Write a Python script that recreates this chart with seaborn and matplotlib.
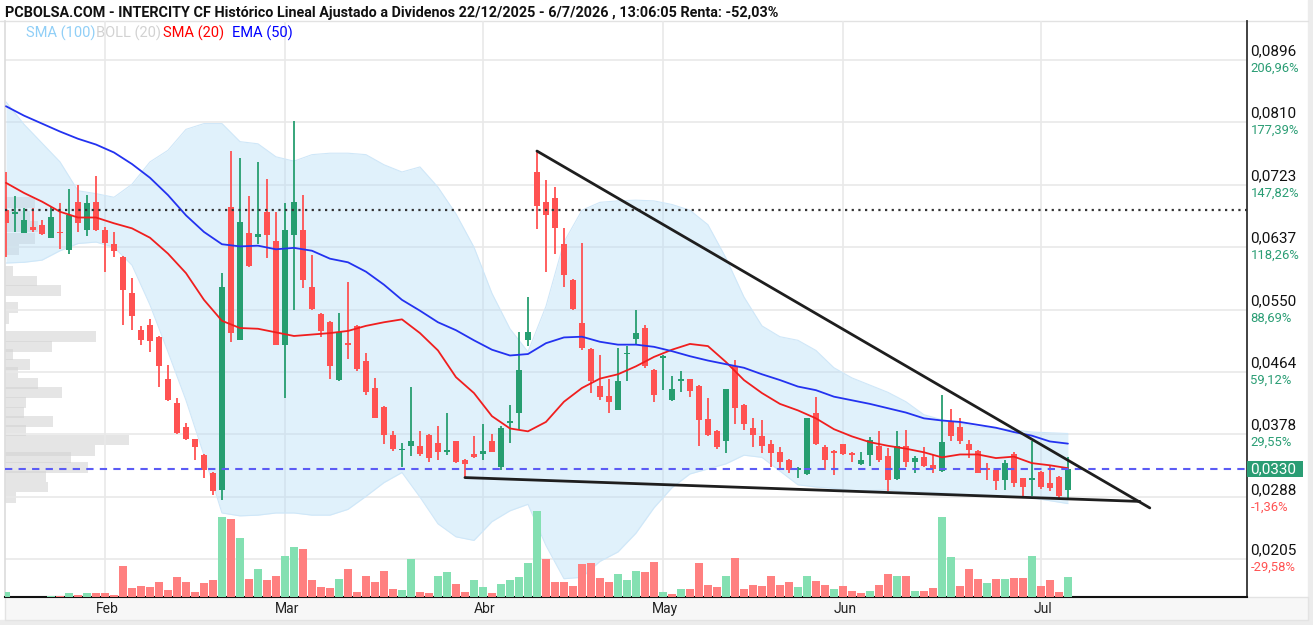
import warnings
warnings.filterwarnings("ignore")
import numpy as np
import pandas as pd
import matplotlib as mpl
mpl.use('Agg')
import matplotlib.pyplot as plt
from matplotlib.patches import Rectangle
from matplotlib import font_manager
import seaborn as sns

#========================================================================================
# daily candles, 16/01/2026 -> 06/07/2026 (trading days only)
opens = [0.0688, 0.0683, 0.0657, 0.0665, 0.0668, 0.0650, 0.0658, 0.0633, 0.0700, 0.0661,
         0.0700, 0.0661, 0.0641, 0.0624, 0.0573, 0.0522, 0.0529, 0.0513, 0.0454, 0.0421,
         0.0388, 0.0371, 0.0349, 0.0324, 0.0301, 0.0692, 0.0509, 0.0657, 0.0651, 0.0686,
         0.0645, 0.0502, 0.0654, 0.0661, 0.0582, 0.0544, 0.0534, 0.0453, 0.0504, 0.0528,
         0.0480, 0.0442, 0.0416, 0.0377, 0.0356, 0.0362, 0.0362, 0.0377, 0.0366, 0.0353,
         0.0368, 0.0343, 0.0350, 0.0351, 0.0368, 0.0333, 0.0393, 0.0408, 0.0508, 0.0741,
         0.0700, 0.0705, 0.0641, 0.0592, 0.0532, 0.0496, 0.0445, 0.0431, 0.0412, 0.0489,
         0.0510, 0.0525, 0.0467, 0.0484, 0.0425, 0.0452, 0.0454, 0.0445, 0.0399, 0.0383,
         0.0368, 0.0472, 0.0419, 0.0386, 0.0375, 0.0364, 0.0353, 0.0343, 0.0329, 0.0323,
         0.0407, 0.0361, 0.0355, 0.0364, 0.0352, 0.0337, 0.0349, 0.0362, 0.0348, 0.0316,
         0.0362, 0.0339, 0.0346, 0.0336, 0.0327, 0.0395, 0.0388, 0.0364, 0.0355, 0.0330,
         0.0329, 0.0314, 0.0351, 0.0317, 0.0314, 0.0326, 0.0310, 0.0319, 0.0301]
highs = [0.0741, 0.0708, 0.0691, 0.0691, 0.0675, 0.0693, 0.0698, 0.0718, 0.0723, 0.0709,
         0.0735, 0.0665, 0.0658, 0.0625, 0.0594, 0.0528, 0.0537, 0.0514, 0.0474, 0.0428,
         0.0393, 0.0372, 0.0350, 0.0326, 0.0601, 0.0770, 0.0760, 0.0708, 0.0755, 0.0731,
         0.0686, 0.0698, 0.0811, 0.0709, 0.0626, 0.0546, 0.0535, 0.0546, 0.0589, 0.0529,
         0.0491, 0.0456, 0.0417, 0.0382, 0.0366, 0.0443, 0.0382, 0.0378, 0.0389, 0.0407,
         0.0369, 0.0344, 0.0376, 0.0392, 0.0379, 0.0389, 0.0419, 0.0519, 0.0568, 0.0770,
         0.0730, 0.0720, 0.0664, 0.0593, 0.0643, 0.0497, 0.0488, 0.0454, 0.0497, 0.0500,
         0.0550, 0.0529, 0.0468, 0.0488, 0.0458, 0.0466, 0.0455, 0.0446, 0.0428, 0.0384,
         0.0441, 0.0481, 0.0420, 0.0401, 0.0398, 0.0370, 0.0360, 0.0344, 0.0333, 0.0401,
         0.0429, 0.0363, 0.0356, 0.0365, 0.0353, 0.0354, 0.0374, 0.0382, 0.0359, 0.0382,
         0.0384, 0.0348, 0.0361, 0.0349, 0.0432, 0.0413, 0.0401, 0.0370, 0.0356, 0.0338,
         0.0330, 0.0342, 0.0354, 0.0318, 0.0368, 0.0327, 0.0336, 0.0320, 0.0346]
lows = [0.0624, 0.0658, 0.0656, 0.0658, 0.0654, 0.0649, 0.0634, 0.0627, 0.0658, 0.0653,
        0.0660, 0.0603, 0.0624, 0.0529, 0.0522, 0.0502, 0.0492, 0.0444, 0.0424, 0.0379,
        0.0370, 0.0342, 0.0317, 0.0294, 0.0287, 0.0506, 0.0508, 0.0610, 0.0642, 0.0622,
        0.0501, 0.0428, 0.0550, 0.0580, 0.0550, 0.0513, 0.0455, 0.0451, 0.0482, 0.0466,
        0.0432, 0.0400, 0.0365, 0.0355, 0.0332, 0.0348, 0.0348, 0.0340, 0.0343, 0.0349,
        0.0338, 0.0317, 0.0345, 0.0342, 0.0353, 0.0329, 0.0366, 0.0384, 0.0500, 0.0662,
        0.0603, 0.0628, 0.0582, 0.0550, 0.0495, 0.0435, 0.0426, 0.0407, 0.0411, 0.0451,
        0.0502, 0.0469, 0.0423, 0.0439, 0.0424, 0.0437, 0.0430, 0.0362, 0.0375, 0.0357,
        0.0352, 0.0392, 0.0384, 0.0361, 0.0352, 0.0333, 0.0329, 0.0324, 0.0317, 0.0322,
        0.0363, 0.0329, 0.0322, 0.0349, 0.0339, 0.0336, 0.0334, 0.0340, 0.0300, 0.0315,
        0.0333, 0.0324, 0.0332, 0.0324, 0.0326, 0.0368, 0.0365, 0.0345, 0.0324, 0.0315,
        0.0301, 0.0301, 0.0305, 0.0291, 0.0293, 0.0302, 0.0299, 0.0289, 0.0288]
closes = [0.0671, 0.0685, 0.0675, 0.0661, 0.0655, 0.0679, 0.0656, 0.0681, 0.0671, 0.0698,
          0.0661, 0.0643, 0.0632, 0.0578, 0.0541, 0.0509, 0.0507, 0.0472, 0.0425, 0.0380,
          0.0371, 0.0361, 0.0329, 0.0299, 0.0582, 0.0518, 0.0672, 0.0611, 0.0655, 0.0654,
          0.0502, 0.0661, 0.0700, 0.0591, 0.0552, 0.0521, 0.0472, 0.0520, 0.0501, 0.0468,
          0.0437, 0.0401, 0.0377, 0.0357, 0.0358, 0.0368, 0.0351, 0.0345, 0.0354, 0.0356,
          0.0339, 0.0337, 0.0346, 0.0355, 0.0354, 0.0386, 0.0397, 0.0467, 0.0520, 0.0694,
          0.0681, 0.0663, 0.0598, 0.0551, 0.0497, 0.0451, 0.0430, 0.0422, 0.0451, 0.0490,
          0.0518, 0.0472, 0.0432, 0.0486, 0.0440, 0.0453, 0.0438, 0.0398, 0.0377, 0.0361,
          0.0440, 0.0415, 0.0392, 0.0377, 0.0362, 0.0352, 0.0340, 0.0329, 0.0331, 0.0400,
          0.0365, 0.0343, 0.0352, 0.0350, 0.0349, 0.0342, 0.0370, 0.0342, 0.0315, 0.0362,
          0.0339, 0.0345, 0.0334, 0.0330, 0.0367, 0.0375, 0.0368, 0.0356, 0.0325, 0.0329,
          0.0313, 0.0338, 0.0310, 0.0305, 0.0317, 0.0305, 0.0303, 0.0292, 0.0330]
prev_close = 0.0665   # close of the session before the first visible candle
volume = [5.3, 0.3, 0.3, 0.3, 0.3, 1.3, 1.3, 4.0, 1.7, 4.0,
          4.0, 4.0, 1.7, 31.0, 9.0, 11.0, 10.0, 15.0, 6.7, 20.0,
          15.0, 5.3, 14.0, 16.7, 80.0, 77.7, 59.0, 17.7, 27.7, 16.7,
          21.3, 41.3, 50.0, 47.7, 16.7, 10.3, 9.0, 17.7, 27.7, 5.3,
          21.3, 15.3, 26.3, 7.7, 6.7, 37.7, 5.3, 4.0, 21.3, 25.3,
          12.7, 5.3, 16.7, 10.3, 4.0, 12.7, 16.7, 20.3, 34.0, 86.3,
          37.7, 15.3, 15.3, 11.3, 32.7, 34.0, 19.0, 15.3, 22.7, 16.7,
          26.3, 25.3, 35.3, 5.0, 3.3, 7.7, 7.7, 34.3, 12.3, 10.0,
          21.3, 39.0, 7.7, 12.3, 11.3, 21.3, 12.3, 15.3, 10.0, 21.0,
          16.0, 12.0, 8.3, 11.3, 6.3, 3.7, 6.3, 12.3, 22.7, 21.3,
          21.3, 6.3, 6.3, 9.0, 80.3, 40.0, 11.3, 27.7, 17.7, 14.0,
          17.7, 17.7, 19.0, 19.0, 41.3, 11.3, 16.7, 5.3, 20.0]

# indicators, read every second session
ema50 = [0.0832, 0.0819, 0.0808, 0.0797, 0.0787, 0.0779, 0.0768, 0.0752, 0.0733, 0.0709,
         0.0681, 0.0658, 0.0641, 0.0638, 0.0639, 0.0634, 0.0636, 0.0632, 0.0621, 0.0616,
         0.0603, 0.0585, 0.0564, 0.0549, 0.0533, 0.0522, 0.0508, 0.0495, 0.0487, 0.0489,
         0.0504, 0.0512, 0.0513, 0.0506, 0.0502, 0.0502, 0.0499, 0.0493, 0.0486, 0.0480,
         0.0475, 0.0470, 0.0461, 0.0453, 0.0444, 0.0439, 0.0430, 0.0425, 0.0420, 0.0414,
         0.0408, 0.0400, 0.0397, 0.0395, 0.0391, 0.0387, 0.0381, 0.0376, 0.0368, 0.0365]
sma20 = [0.0726, 0.0712, 0.0700, 0.0686, 0.0678, 0.0678, 0.0670, 0.0663, 0.0650, 0.0628,
         0.0601, 0.0564, 0.0535, 0.0525, 0.0524, 0.0519, 0.0514, 0.0516, 0.0518, 0.0521,
         0.0528, 0.0533, 0.0537, 0.0518, 0.0494, 0.0457, 0.0435, 0.0403, 0.0386, 0.0382,
         0.0395, 0.0423, 0.0442, 0.0455, 0.0461, 0.0472, 0.0485, 0.0495, 0.0503, 0.0500,
         0.0478, 0.0453, 0.0435, 0.0420, 0.0411, 0.0400, 0.0385, 0.0375, 0.0367, 0.0362,
         0.0358, 0.0353, 0.0346, 0.0350, 0.0350, 0.0345, 0.0347, 0.0338, 0.0335, 0.0331]
boll_up = [0.0838, 0.0807, 0.0781, 0.0755, 0.0715, 0.0711, 0.0706, 0.0724, 0.0755, 0.0771,
           0.0800, 0.0808, 0.0808, 0.0783, 0.0780, 0.0762, 0.0756, 0.0765, 0.0767, 0.0767,
           0.0765, 0.0751, 0.0741, 0.0748, 0.0720, 0.0683, 0.0637, 0.0573, 0.0524, 0.0492,
           0.0555, 0.0644, 0.0688, 0.0699, 0.0701, 0.0702, 0.0701, 0.0696, 0.0688, 0.0668,
           0.0622, 0.0568, 0.0528, 0.0513, 0.0508, 0.0494, 0.0470, 0.0456, 0.0446, 0.0436,
           0.0423, 0.0405, 0.0398, 0.0393, 0.0388, 0.0386, 0.0384, 0.0381, 0.0380, 0.0379]
boll_lo = [0.0615, 0.0616, 0.0619, 0.0632, 0.0642, 0.0644, 0.0637, 0.0612, 0.0557, 0.0492,
           0.0425, 0.0349, 0.0269, 0.0265, 0.0266, 0.0269, 0.0269, 0.0266, 0.0266, 0.0274,
           0.0292, 0.0311, 0.0325, 0.0291, 0.0254, 0.0236, 0.0231, 0.0257, 0.0272, 0.0281,
           0.0224, 0.0178, 0.0180, 0.0202, 0.0215, 0.0241, 0.0276, 0.0304, 0.0323, 0.0330,
           0.0337, 0.0349, 0.0346, 0.0327, 0.0308, 0.0305, 0.0303, 0.0300, 0.0300, 0.0301,
           0.0298, 0.0298, 0.0297, 0.0295, 0.0294, 0.0292, 0.0291, 0.0290, 0.0286, 0.0282]

# volume profile (left side)
vp_price = [0.0699, 0.0680, 0.0665, 0.0649, 0.0634, 0.0604, 0.0590, 0.0577, 0.0553, 0.0538,
            0.0513, 0.0499, 0.0488, 0.0474, 0.0463, 0.0448, 0.0436, 0.0422, 0.0408, 0.0396,
            0.0383, 0.0370, 0.0356, 0.0346, 0.0332, 0.0319, 0.0305, 0.0290]
vp_vol = [30, 25, 33, 30, 14, 8, 32, 56, 13, 4,
          91, 47, 8, 25, 13, 33, 57, 21, 19, 48,
          21, 124, 90, 66, 83, 41, 43, 11]

# drawn trend lines (session index, price)
trend_hi_idx = [59.0, 127.1]
trend_hi_px = [0.0770, 0.0276]
trend_lo_idx = [51.0, 126.0]
trend_lo_px = [0.0318, 0.0285]

ref_price = 0.0688   # start-of-period price (dotted)
last_price = 0.0330

month_idx = [11, 31, 53, 73, 93, 115]
month_lbl = ['Feb', 'Mar', 'Abr', 'May', 'Jun', 'Jul']

grid_levels = [0.0896, 0.0810, 0.0723, 0.0637, 0.0550, 0.0464, 0.0378, 0.0291, 0.0205]
axis_vals = [0.0896, 0.0810, 0.0723, 0.0637, 0.0550, 0.0464, 0.0378, 0.0288, 0.0205]
axis_txt = ['0,0896', '0,0810', '0,0723', '0,0637', '0,0550', '0,0464', '0,0378', '0,0288', '0,0205']
pct_txt = ['206,96%', '177,39%', '147,82%', '118,26%', '88,69%', '59,12%', '29,55%', '-1,36%', '-29,58%']

title = ('PCBOLSA.COM - INTERCITY CF Histórico Lineal Ajustado a Dividenos '
         '22/12/2025 - 6/7/2026 , 13:06:05 Renta: -52,03%')

#========================================================================================
sns.set_theme(style='white')
plt.rcParams['font.family'] = ['Roboto', 'DejaVu Sans']

names = {f.name for f in font_manager.fontManager.ttflist}
title_font = 'Liberation Sans Narrow' if 'Liberation Sans Narrow' in names else 'Roboto'
title_size = 12.4 if title_font == 'Liberation Sans Narrow' else 10.4

GREEN = '#269e70'
RED = '#ff5252'
VGREEN = '#84e0b2'
VRED = '#ff8080'

W, H = 1313, 625
fig = plt.figure(figsize=(W / 100, H / 100), dpi=100)
fig.patch.set_facecolor('white')

# frame / decorations in pixel units
bg = fig.add_axes([0, 0, 1, 1], zorder=-10)
bg.set_xlim(0, W)
bg.set_ylim(H, 0)
bg.axis('off')
bg.add_patch(Rectangle((1308, 0), 5, H, color='#ececec'))
bg.add_patch(Rectangle((0, 620), W, 5, color='#ececec'))
bg.add_patch(Rectangle((5, 597), 1303, 23, facecolor='#f7f7f7', edgecolor='#e3e3e3', lw=1))
bg.plot([0, 1308], [21, 21], color='#e2e2e2', lw=1)

rect = [5 / W, 1 - 597 / H, 1242 / W, 576 / H]
ylim = (0.01527, 0.0950)
xlim = (-0.11, 137.9)

# volume profile underneath everything
vp = fig.add_axes(rect, zorder=1)
vp.set_xlim(0, 1242)
vp.set_ylim(*ylim)
vp.axis('off')
vp.barh(vp_price, vp_vol, height=0.0015, left=0, color='#d4d4d4', alpha=0.6, lw=0)

ax = fig.add_axes(rect, zorder=2)
ax.set_facecolor('none')
ax.set_xlim(*xlim)
ax.set_ylim(*ylim)
ax.set_xticks([])
ax.set_yticks([])
ax.spines['top'].set_visible(False)
ax.spines['left'].set_color('#dddddd')
ax.spines['right'].set_color('#333333')
ax.spines['right'].set_linewidth(1.3)
ax.spines['bottom'].set_color('#111111')
ax.spines['bottom'].set_linewidth(1.5)

for g in grid_levels:
    ax.axhline(g, color='#e9e9e9', lw=1.2, zorder=0.5)
for m in month_idx:
    ax.axvline(m, color='#e9e9e9', lw=1.2, zorder=0.5)

idx = np.arange(len(closes))
ma_idx = np.arange(0, len(closes), 2)

# bollinger band
ax.fill_between(ma_idx, boll_lo, boll_up, color='#b3dcf7', alpha=0.4, lw=0, zorder=1)
ax.plot(ma_idx, boll_up, color='#cfe7f8', lw=0.8, zorder=1.1)
ax.plot(ma_idx, boll_lo, color='#cfe7f8', lw=0.8, zorder=1.1)

# candles
o = np.array(opens); c = np.array(closes)
hi = np.array(highs); lo = np.array(lows)
up = c >= o
ccol = np.where(up, GREEN, RED)
ax.vlines(idx, lo, hi, colors=ccol, lw=1.3, zorder=3)
body = np.maximum(np.abs(c - o), 0.00018)
ax.bar(idx, body, bottom=np.minimum(o, c), width=0.7, color=ccol, lw=0, zorder=3.5)

# moving averages
sns.lineplot(x=ma_idx, y=sma20, ax=ax, color='#f01e1e', lw=1.3, zorder=4)
sns.lineplot(x=ma_idx, y=ema50, ax=ax, color='#2332f0', lw=1.3, zorder=4)

ax.axhline(ref_price, color='#333333', ls=(0, (1, 2)), lw=1.6, zorder=4)
ax.axhline(last_price, color='#5b5bf5', ls=(0, (3.5, 3)), lw=1.5, zorder=4)

ax.plot(trend_hi_idx, trend_hi_px, color='#1e1e1e', lw=2, zorder=6, solid_capstyle='round')
ax.plot(trend_lo_idx, trend_lo_px, color='#1e1e1e', lw=2, zorder=6, solid_capstyle='round')

# volume
vol = ax.twinx()
vol.set_ylim(0, 576)
vol.axis('off')
prev = np.concatenate([[prev_close], c[:-1]])
vcol = np.where(c >= prev, VGREEN, VRED)
vol.bar(idx, volume, width=0.82, color=vcol, lw=0)

# right price scale
for v, t, p in zip(axis_vals, axis_txt, pct_txt):
    ax.annotate(t, xy=(1, v), xycoords=('axes fraction', 'data'), xytext=(2.5, 6.5),
                textcoords='offset points', va='center', ha='left', fontsize=11,
                color='#111111', annotation_clip=False)
    pc = RED if p.startswith('-') else '#2a9d74'
    ax.annotate(p, xy=(1, v), xycoords=('axes fraction', 'data'), xytext=(2.5, -5.8),
                textcoords='offset points', va='center', ha='left', fontsize=9.4,
                color=pc, annotation_clip=False)

ax.add_patch(Rectangle((1.0, last_price - 0.00115), 56 / 1242, 0.0023,
                       transform=ax.get_yaxis_transform(), facecolor='#2a9d74',
                       edgecolor='none', clip_on=False, zorder=10))
ax.annotate('0,0330', xy=(1, last_price), xycoords=('axes fraction', 'data'),
            xytext=(2.5, 0), textcoords='offset points', va='center', ha='left',
            fontsize=11, color='white', annotation_clip=False, zorder=11)

# months
for m, l in zip(month_idx, month_lbl):
    ax.annotate(l, xy=(m, 0), xycoords=('data', 'axes fraction'), xytext=(1.5, -8.6),
                textcoords='offset points', va='center', ha='center', fontsize=10,
                color='#222222', annotation_clip=False)

# header
fig.text(5 / W, 1 - 13 / H, title, fontsize=title_size, fontweight='bold',
         family=title_font, color='#111111', va='center', ha='left')
leg = [('SMA (100)', '#90cff7', 26), ('BOLL (20)', '#d2d2d2', 96),
       ('SMA (20)', '#ff0000', 163), ('EMA (50)', '#0000ff', 232)]
for t, col, px in leg:
    fig.text(px / W, 1 - 33 / H, t, fontsize=10.5, color=col, va='center', ha='left')

plt.savefig('out.png', dpi=100)
